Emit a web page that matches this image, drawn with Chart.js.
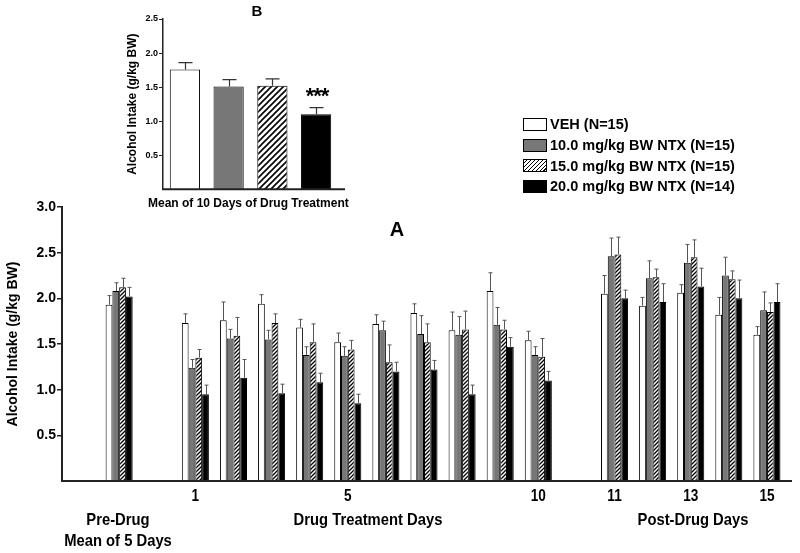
<!DOCTYPE html>
<html>
<head>
<meta charset="utf-8">
<script src="https://cdn.jsdelivr.net/npm/chart.js@4.4.1/dist/chart.umd.min.js"></script>
<style>
  html, body { margin: 0; padding: 0; background: #fff; }
  body { width: 800px; height: 553px; position: relative; overflow: hidden;
         font-family: 'Liberation Sans', Arial, sans-serif; font-weight: bold; color: #000; }
  #mainWrap { position: absolute; left: 0; top: 0; width: 800px; height: 553px; }
  #insetWrap { position: absolute; left: 118px; top: 0; width: 262px; height: 215px; }
  .lbl { position: absolute; white-space: nowrap; text-align: center; }
  .narrow { font-size: 17px; transform: scaleX(0.87); transform-origin: 50% 50%; }
  #legend { position: absolute; left: 523px; top: 114px; font-size: 14.5px; }
  #legend .row { height: 20.7px; display: flex; align-items: center; }
  #legend .sw { width: 22px; height: 11px; border: 1px solid #000; margin-right: 3px; box-sizing: content-box; }
</style>
</head>
<body>
<div id="mainWrap"><canvas id="main" width="800" height="553"></canvas></div>
<div id="insetWrap"><canvas id="inset" width="262" height="215"></canvas></div>

<div class="lbl" style="left:237px; top:2px; width:40px; font-size:15px;">B</div>
<div class="lbl" style="left:297px; top:83px; width:40px; font-size:22px; letter-spacing:-1px;">***</div>
<div class="lbl" style="left:148px; top:196px; width:200px; font-size:12px;">Mean of 10 Days of Drug Treatment</div>
<div class="lbl" style="left:377px; top:218px; width:40px; font-size:20px;">A</div>

<div class="lbl narrow" style="left:48px; top:509px; width:140px; line-height:21px;">Pre-Drug<br>Mean of 5 Days</div>
<div class="lbl narrow" style="left:268px; top:509px; width:200px; line-height:21px;">Drug Treatment Days</div>
<div class="lbl narrow" style="left:593px; top:509px; width:200px; line-height:21px;">Post-Drug Days</div>

<div id="legend"></div>

<script>
// ---------------- DATA ----------------
const categories = ['', 'Pre-Drug', '', 'Day 1', 'Day 2', 'Day 3', 'Day 4', 'Day 5', 'Day 6', 'Day 7', 'Day 8', 'Day 9', 'Day 10', '', 'Day 11', 'Day 12', 'Day 13', 'Day 14', 'Day 15'];
const tickLabels = ['', '', '', '1', '', '', '', '5', '', '', '', '', '10', '', '11', '', '13', '', '15'];

const seriesNames = ['VEH (N=15)', '10.0 mg/kg BW NTX (N=15)', '15.0 mg/kg BW NTX (N=15)', '20.0 mg/kg BW NTX (N=14)'];

const veh      = [null, 1.93, null, 1.73, 1.76, 1.94, 1.68, 1.52, 1.72, 1.84, 1.65, 2.08, 1.54, null, 2.05, 1.92, 2.06, 1.82, 1.60];
const vehErr   = [null, 0.10, null, 0.10, 0.20, 0.10, 0.09, 0.10, 0.10, 0.10, 0.20, 0.20, 0.10, null, 0.20, 0.09, 0.09, 0.19, 0.09];
const ntx10    = [null, 2.08, null, 1.24, 1.56, 1.55, 1.38, 1.37, 1.65, 1.61, 1.60, 1.71, 1.38, null, 2.46, 2.22, 2.39, 2.25, 1.87];
const ntx10Err = [null, 0.09, null, 0.09, 0.10, 0.10, 0.09, 0.10, 0.10, 0.20, 0.20, 0.19, 0.09, null, 0.20, 0.19, 0.20, 0.20, 0.20];
const ntx15    = [null, 2.12, null, 1.35, 1.59, 1.73, 1.52, 1.44, 1.30, 1.52, 1.66, 1.66, 1.36, null, 2.48, 2.23, 2.45, 2.21, 1.85];
const ntx15Err = [null, 0.10, null, 0.09, 0.20, 0.10, 0.20, 0.10, 0.19, 0.20, 0.20, 0.10, 0.20, null, 0.19, 0.09, 0.19, 0.09, 0.10];
const ntx20    = [null, 2.02, null, 0.95, 1.13, 0.96, 1.08, 0.85, 1.20, 1.22, 0.95, 1.47, 1.10, null, 2.00, 1.96, 2.13, 2.00, 1.96];
const ntx20Err = [null, 0.10, null, 0.10, 0.20, 0.10, 0.10, 0.10, 0.10, 0.10, 0.10, 0.10, 0.10, null, 0.09, 0.20, 0.20, 0.20, 0.20];

const yTicksMain = [0.5, 1.0, 1.5, 2.0, 2.5, 3.0];

const insetLabels = ['VEH', '10.0 mg/kg', '15.0 mg/kg', '20.0 mg/kg'];
const insetMeans  = [1.76, 1.51, 1.52, 1.10];
const insetErr    = [0.10, 0.10, 0.10, 0.10];

// ---------------- STYLES ----------------
const FONT = "'Liberation Sans', Arial, sans-serif";
const GRAY = '#777777';

function hatch(size, lw) {
  const c = document.createElement('canvas');
  c.width = size; c.height = size;
  const g = c.getContext('2d');
  g.fillStyle = '#fff'; g.fillRect(0, 0, size, size);
  g.strokeStyle = '#000'; g.lineWidth = lw;
  g.beginPath();
  g.moveTo(-1, size + 1); g.lineTo(size + 1, -1);
  g.moveTo(-1, 1); g.lineTo(1, -1);
  g.moveTo(size - 1, size + 1); g.lineTo(size + 1, size - 1);
  g.stroke();
  return g.createPattern(c, 'repeat');
}
const ctxMain = document.getElementById('main').getContext('2d');
const ctxInset = document.getElementById('inset').getContext('2d');
const hatchMain = hatch(4, 1.3);
const hatchInset = hatch(6, 1.6);

const fillsMain = ['#ffffff', GRAY, hatchMain, '#000000'];

// ---------------- LEGEND ----------------
const legendEl = document.getElementById('legend');
const swatchCss = ['background:#fff', 'background:' + GRAY,
  'background:repeating-linear-gradient(135deg,#fff 0 1.6px,#000 1.6px 2.8px)', 'background:#000'];
seriesNames.forEach((n, i) => {
  const r = document.createElement('div'); r.className = 'row';
  const s = document.createElement('span'); s.className = 'sw'; s.style.cssText = swatchCss[i];
  const t = document.createElement('span'); t.textContent = n;
  r.appendChild(s); r.appendChild(t); legendEl.appendChild(r);
});

// ---------------- PLUGINS ----------------
function errorBarPlugin(errArrays, color, cap, lw) {
  return {
    id: 'errbars',
    afterDatasetsDraw(chart) {
      const ctx = chart.ctx; const ys = chart.scales.y;
      ctx.save();
      ctx.strokeStyle = color; ctx.lineWidth = lw;
      chart.data.datasets.forEach((ds, di) => {
        const meta = chart.getDatasetMeta(di);
        meta.data.forEach((bar, j) => {
          const v = ds.data[j]; const e = errArrays[di][j];
          if (v == null || e == null) return;
          const x = Math.round(bar.x) + 0.5;
          const y0 = bar.y; const y1 = ys.getPixelForValue(v + e);
          ctx.beginPath();
          ctx.moveTo(x, y0); ctx.lineTo(x, y1);
          ctx.moveTo(x - cap / 2, y1); ctx.lineTo(x + cap / 2, y1);
          ctx.stroke();
        });
      });
      ctx.restore();
    }
  };
}
function xAxisLine(extendTo) {
  return {
    id: 'xline',
    afterDraw(chart) {
      const ctx = chart.ctx; const a = chart.chartArea;
      ctx.save(); ctx.strokeStyle = '#222'; ctx.lineWidth = 2;
      ctx.beginPath(); ctx.moveTo(a.left - 1, a.bottom); ctx.lineTo(extendTo, a.bottom); ctx.stroke();
      ctx.restore();
    }
  };
}
// condensed tick labels for the category axis
const narrowTicks = {
  id: 'narrowTicks',
  afterDraw(chart) {
    const ctx = chart.ctx; const xs = chart.scales.x; const a = chart.chartArea;
    ctx.save();
    ctx.fillStyle = '#000';
    ctx.font = "bold 16px " + FONT;
    ctx.textAlign = 'center'; ctx.textBaseline = 'middle';
    tickLabels.forEach((t, i) => {
      if (!t) return;
      const x = xs.getPixelForValue(i);
      ctx.save();
      ctx.translate(x, a.bottom + 16);
      ctx.scale(0.85, 1);
      ctx.fillText(t, 0, 0);
      ctx.restore();
    });
    ctx.restore();
  }
};

// ---------------- MAIN CHART ----------------
const mainSeries = [veh, ntx10, ntx15, ntx20];
const mainErr = [vehErr, ntx10Err, ntx15Err, ntx20Err];
new Chart(ctxMain, {
  type: 'bar',
  data: {
    labels: categories,
    datasets: mainSeries.map((d, i) => ({
      label: seriesNames[i], data: d, backgroundColor: fillsMain[i],
      borderColor: '#000', borderWidth: 1, borderSkipped: 'bottom',
      categoryPercentage: 0.71, barPercentage: 1.0
    }))
  },
  options: {
    responsive: false, animation: false, devicePixelRatio: 1,
    layout: { padding: { left: 0, right: 14, top: 207, bottom: 0 } },
    plugins: { legend: { display: false }, tooltip: { enabled: false } },
    scales: {
      x: {
        grid: { display: false, drawTicks: false },
        border: { display: false },
        ticks: { display: false },
        afterFit: s => { s.height = 72; }
      },
      y: {
        min: 0, max: 3.0,
        afterBuildTicks: s => { s.ticks = yTicksMain.map(v => ({ value: v })); },
        grid: { drawOnChartArea: false, drawTicks: true, tickLength: 5, color: '#222', lineWidth: 1.5 },
        border: { display: true, color: '#222', width: 2 },
        ticks: { padding: 1, color: '#000', font: { family: FONT, size: 14, weight: 'bold' },
                 callback: v => Number(v).toFixed(1) },
        title: { display: true, text: 'Alcohol Intake (g/kg BW)', color: '#000',
                 font: { family: FONT, size: 14, weight: 'bold' }, padding: { top: 5, bottom: 0 } },
        afterFit: s => { s.width = 62; }
      }
    }
  },
  plugins: [errorBarPlugin(mainErr, '#555', 4, 1), xAxisLine(792), narrowTicks]
});

// ---------------- INSET CHART ----------------
new Chart(ctxInset, {
  type: 'bar',
  data: {
    labels: insetLabels,
    datasets: [{
      data: insetMeans,
      backgroundColor: ['#ffffff', GRAY, hatchInset, '#000000'],
      borderColor: '#000', borderWidth: 1, borderSkipped: 'bottom',
      categoryPercentage: 0.69, barPercentage: 1.0
    }]
  },
  options: {
    responsive: false, animation: false, devicePixelRatio: 1,
    layout: { padding: { left: 0, right: 42, top: 19, bottom: 0 } },
    plugins: { legend: { display: false }, tooltip: { enabled: false } },
    scales: {
      x: {
        grid: { display: false, drawTicks: false },
        border: { display: false },
        ticks: { display: false },
        afterFit: s => { s.height = 25.7; }
      },
      y: {
        min: 0, max: 2.5,
        afterBuildTicks: s => { s.ticks = [0.5, 1.0, 1.5, 2.0, 2.5].map(v => ({ value: v })); },
        grid: { drawOnChartArea: false, drawTicks: true, tickLength: 4, color: '#222', lineWidth: 1 },
        border: { display: true, color: '#222', width: 1.5 },
        ticks: { padding: 1, color: '#000', font: { family: FONT, size: 9, weight: 'bold' },
                 callback: v => Number(v).toFixed(1) },
        title: { display: true, text: 'Alcohol Intake (g/kg BW)', color: '#000',
                 font: { family: FONT, size: 12, weight: 'bold' }, padding: { top: 7, bottom: 0 } },
        afterFit: s => { s.width = 45; }
      }
    }
  },
  plugins: [errorBarPlugin([insetErr], '#333', 14, 1.2), xAxisLine(227)]
});
</script>
</body>
</html>
